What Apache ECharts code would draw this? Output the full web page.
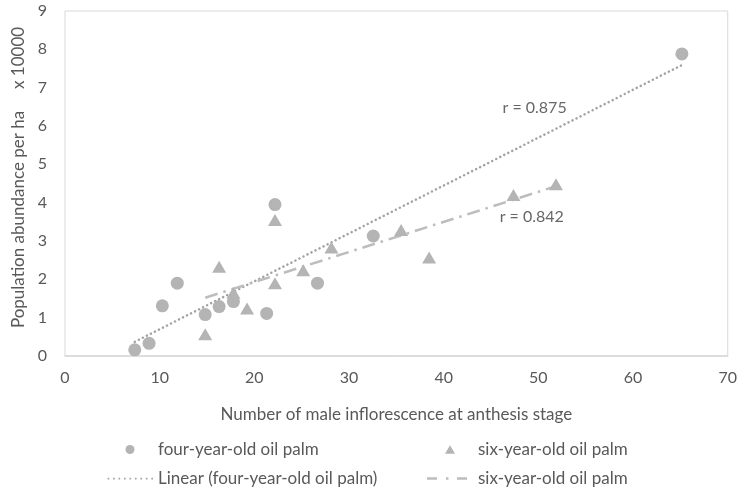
<!DOCTYPE html>
<html>
<head>
<meta charset="utf-8">
<script src="https://cdn.jsdelivr.net/npm/echarts@6/dist/echarts.min.js"></script>
<style>html,body{margin:0;padding:0;background:#fff}#c{width:740px;height:492px}</style>
</head>
<body>
<div id="c"></div>
<script>
// four-year-old oil palm: [male inflorescences, abundance x10000]
const fourYear = [[7.37,0.16],[8.88,0.33],[10.28,1.31],[11.86,1.90],[14.81,1.08],[16.28,1.29],[17.79,1.42],[21.3,1.11],[22.18,3.95],[26.67,1.90],[32.56,3.13],[65.16,7.88]];
// six-year-old oil palm
const sixYear = [[14.81,0.57],[16.28,2.33],[17.79,1.65],[19.23,1.24],[22.18,3.55],[22.18,1.90],[25.16,2.24],[28.14,2.83],[35.5,3.29],[38.46,2.57],[47.37,4.20],[51.86,4.48]];
// trend line end points
const fourTrend = [[7.37,0.37],[65.16,7.59]];
const sixTrend = [[14.81,1.52],[51.86,4.43]];
// correlation labels
const rLabels = [[49.6,6.47,'r = 0.875'],[49.3,3.63,'r = 0.842']];
const xTicks = {min:0,max:70,interval:10};
const yTicks = {min:0,max:9,interval:1};

const FONT = 'Lato, "Open Sans", sans-serif';
const nameFour = 'four-year-old oil palm';
const nameSix = 'six-year-old oil palm';
const nameFourLin = 'Linear (four-year-old oil palm)';
const nameSixLin = 'six-year-old oil palm\u200b';

// legend icon paths in a 46x10 box (bbox fixed by the two moveTo points)
const BOX = 'M0,0 M46,10 ';
const iconCircle = 'path://' + BOX + 'M27.5,5 A4.5,4.5 0 1 1 18.5,5 A4.5,4.5 0 1 1 27.5,5 Z';
const iconTri = 'path://' + BOX + 'M18,9.2 L23,0.8 L28,9.2 Z';
let dots = '';
for (let i = 0; i < 9; i++) { const x = 0.6 + i * 5.6; dots += 'M' + x + ',4.2 h1.7 v1.7 h-1.7 Z '; }
const iconDot = 'path://' + BOX + dots;
const iconDashDot = 'path://' + BOX + 'M0,3.8 h10 v2.5 h-10 Z M19,3.8 h2.5 v2.5 h-2.5 Z M30,3.8 h10 v2.5 h-10 Z';

function leg(left, top, name, icon){
  return {orient:'horizontal',left:left,top:top,padding:0,itemWidth:46,itemHeight:10,
    textStyle:{fontSize:17,color:'#595959',fontFamily:FONT},data:[{name:name,icon:icon}]};
}

const chart = echarts.init(document.getElementById('c'));
chart.setOption({
  animation:false,
  textStyle:{fontFamily:FONT},
  grid:{left:65,right:10,top:11,bottom:136,show:true,borderColor:'#D9D9D9',borderWidth:1,containLabel:false},
  xAxis:{type:'value',min:xTicks.min,max:xTicks.max,interval:xTicks.interval,
    name:'Number of male inflorescence at anthesis stage',nameLocation:'middle',nameGap:50,
    nameTextStyle:{fontSize:17,color:'#595959',fontFamily:FONT},
    axisLine:{show:true,lineStyle:{color:'#D9D9D9',width:1.5}},axisTick:{show:false},splitLine:{show:false},
    axisLabel:{fontSize:16,color:'#595959',margin:14,fontFamily:FONT}},
  yAxis:{type:'value',min:yTicks.min,max:yTicks.max,interval:yTicks.interval,
    name:'Population abundance per ha     x 10000',nameLocation:'middle',nameGap:34,nameRotate:90,
    nameTextStyle:{fontSize:17,color:'#595959',fontFamily:FONT,padding:[0,0,0,12]},
    axisLine:{show:false},axisTick:{show:false},splitLine:{show:false},
    axisLabel:{fontSize:16,color:'#595959',margin:18,fontFamily:FONT}},
  legend:[
    leg(107,441,nameFour,iconCircle),
    leg(107,470,nameFourLin,iconDot),
    leg(427,441,nameSix,iconTri),
    leg(427,470,nameSixLin,iconDashDot)
  ],
  series:[
    {name:nameFourLin,type:'line',data:fourTrend,symbol:'none',z:2,itemStyle:{color:'#A3A3A3'},
     lineStyle:{color:'#A3A3A3',width:2.5,type:[0.1,4.4],cap:'round'}},
    {name:nameSixLin,type:'line',data:sixTrend,symbol:'none',z:2,itemStyle:{color:'#BDBDBD'},
     lineStyle:{color:'#BDBDBD',width:2.5,type:[13,6,2.5,6]}},
    {name:nameFour,type:'scatter',data:fourYear,symbol:'circle',symbolSize:13,z:3,
     itemStyle:{color:'#B4B4B4',opacity:1}},
    {name:nameSix,type:'scatter',data:sixYear,symbol:'triangle',symbolSize:[14,12],z:3,
     itemStyle:{color:'#B4B4B4',opacity:1}},
    {type:'scatter',data:rLabels.map(d=>({value:[d[0],d[1]],label:{formatter:d[2]}})),symbolSize:0,silent:true,
     label:{show:true,position:'inside',fontSize:16,color:'#404040',fontFamily:FONT}}
  ]
});
</script>
</body>
</html>
